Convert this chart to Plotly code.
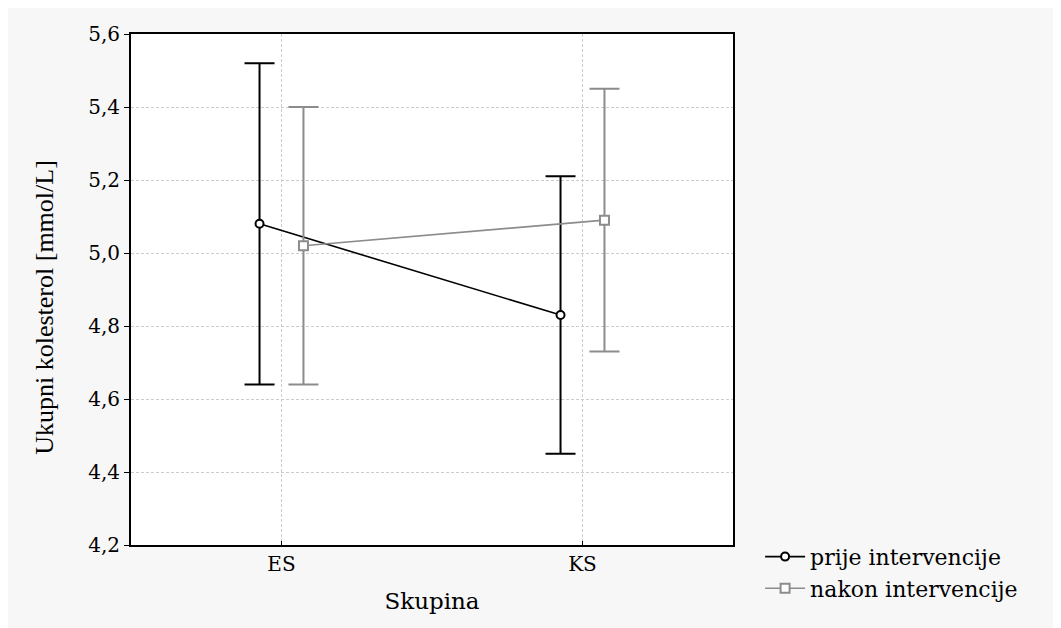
import plotly.graph_objects as go

categories = ["ES", "KS"]
series_names = ["prije intervencije", "nakon intervencije"]
means_prije = [5.08, 4.83]
upper_prije = [5.52, 5.21]
lower_prije = [4.64, 4.45]
means_nakon = [5.02, 5.09]
upper_nakon = [5.40, 5.45]
lower_nakon = [4.64, 4.73]
y_ticks = [4.2, 4.4, 4.6, 4.8, 5.0, 5.2, 5.4, 5.6]
y_tick_labels = ["4,2", "4,4", "4,6", "4,8", "5,0", "5,2", "5,4", "5,6"]
y_title = "Ukupni kolesterol [mmol/L]"
x_title = "Skupina"

offset = 0.073
idx = list(range(len(categories)))

def trace(name, means, up, lo, shift, color, symbol, msize):
    return go.Scatter(
        x=[i + shift for i in idx], y=means, name=name, mode="lines+markers",
        line=dict(color=color, width=1.6),
        marker=dict(symbol=symbol, size=msize, color="white",
                    line=dict(color=color, width=2)),
        error_y=dict(type="data", symmetric=False,
                     array=[u - m for u, m in zip(up, means)],
                     arrayminus=[m - l for m, l in zip(means, lo)],
                     color=color, thickness=2, width=15),
    )

fig = go.Figure()
fig.add_trace(trace(series_names[0], means_prije, upper_prije, lower_prije, -offset, "black", "circle", 8))
fig.add_trace(trace(series_names[1], means_nakon, upper_nakon, lower_nakon, offset, "#8c8c8c", "square", 9))

font = "DejaVu Serif"
tfont = "Liberation Serif"
fig.update_layout(
    width=1061, height=628,
    paper_bgcolor="#f7f7f7", plot_bgcolor="white",
    margin=dict(l=123, r=336, t=26, b=91),
    font=dict(family=font, size=20, color="black"),
    legend=dict(x=1.045, y=0.018, xanchor="left", yanchor="top",
                bgcolor="rgba(0,0,0,0)", font=dict(family=font, size=22), tracegroupgap=0,
                itemwidth=40),
    annotations=[dict(text=y_title, textangle=-90, xref="paper", yref="paper",
                      x=-0.143, y=0.466, xanchor="center", yanchor="middle",
                      showarrow=False, font=dict(family=tfont, size=26, color="black"))],
)
fig.update_xaxes(
    range=[-0.5, 1.5], tickvals=idx, ticktext=categories,
    tickfont=dict(family=font, size=20),
    showgrid=True, gridcolor="#cccccc", griddash="3px,2px", gridwidth=1,
    showline=True, linecolor="black", linewidth=2, mirror=True,
    ticks="inside", ticklen=4, tickcolor="black",
    zeroline=False,
    title=dict(text=x_title, font=dict(family=font, size=23), standoff=18),
)
fig.update_yaxes(
    range=[4.2, 5.6], tickvals=y_ticks, ticktext=y_tick_labels,
    tickfont=dict(family=font, size=20),
    showgrid=True, gridcolor="#cccccc", griddash="3px,2px", gridwidth=1,
    showline=True, linecolor="black", linewidth=2, mirror=True,
    ticks="outside", ticklen=5, tickcolor="black",
    zeroline=False,
)
fig.write_html("out.html")
